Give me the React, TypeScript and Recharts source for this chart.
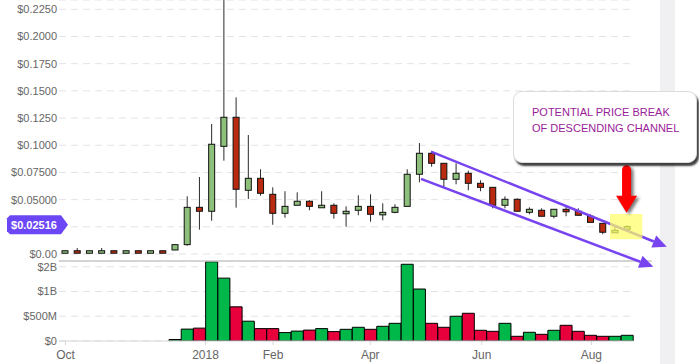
import React from 'react';
import {
  ComposedChart,
  Bar,
  XAxis,
  YAxis,
  CartesianGrid,
  Cell,
  ReferenceLine,
  ReferenceArea,
  ReferenceDot,
} from 'recharts';

// weekly candles, Oct 2017 -> Aug 2018
const openPrices = [
  0.0018, 0.003, 0.0018, 0.0018, 0.003, 0.0018, 0.003, 0.0018, 0.003, 0.0037,
  0.0086, 0.0429, 0.0393, 0.099, 0.1257, 0.0586, 0.0696, 0.0549, 0.0374, 0.0448,
  0.0485, 0.0429, 0.0448, 0.0374, 0.0402, 0.0438, 0.0365, 0.0383, 0.0438, 0.0733,
  0.0926, 0.0834, 0.0687, 0.0742, 0.065, 0.0613, 0.0448, 0.0503, 0.0383, 0.0402,
  0.0347, 0.0411, 0.0393, 0.0347, 0.0282, 0.02, 0.0227,
];
const highPrices = [
  0.0032, 0.0055, 0.0032, 0.0055, 0.0032, 0.0032, 0.0032, 0.0032, 0.0032, 0.0088,
  0.053, 0.0708, 0.1195, 0.2335, 0.144, 0.1094, 0.0779, 0.0613, 0.0577, 0.0567,
  0.0494, 0.0577, 0.0466, 0.0438, 0.054, 0.0549, 0.0466, 0.0457, 0.0779, 0.102,
  0.094, 0.0834, 0.0834, 0.0766, 0.0678, 0.0613, 0.053, 0.0512, 0.0429, 0.042,
  0.0411, 0.0448, 0.042, 0.0365, 0.0282, 0.0255, 0.0264,
];
const lowPrices = [
  0.0016, 0.0016, 0.0016, 0.0016, 0.0016, 0.0016, 0.0016, 0.0016, 0.0016, 0.0035,
  0.0076, 0.0224, 0.0306, 0.0858, 0.0426, 0.0506, 0.0536, 0.0269, 0.0334, 0.0448,
  0.0402, 0.0429, 0.0325, 0.0251, 0.0356, 0.0297, 0.031, 0.0374, 0.0438, 0.0659,
  0.0803, 0.0613, 0.0641, 0.0586, 0.0577, 0.042, 0.042, 0.0393, 0.0365, 0.0347,
  0.0328, 0.0347, 0.0356, 0.0291, 0.0181, 0.02, 0.0227,
];
const closePrices = [
  0.003, 0.0018, 0.003, 0.003, 0.0018, 0.003, 0.0018, 0.003, 0.0018, 0.0086,
  0.0429, 0.0393, 0.1009, 0.1257, 0.0595, 0.0696, 0.0558, 0.0374, 0.0438, 0.0485,
  0.0438, 0.0448, 0.0374, 0.0393, 0.0438, 0.0365, 0.0383, 0.0429, 0.0733, 0.0926,
  0.0834, 0.0687, 0.0742, 0.065, 0.0613, 0.0448, 0.0503, 0.0393, 0.0411, 0.0347,
  0.0411, 0.0393, 0.0356, 0.0291, 0.02, 0.0218, 0.02516,
];
const volumes = [
  0, 0, 0, 0, 0, 0, 0, 0, 0, 0.03e9,
  0.24e9, 0.26e9, 1.6e9, 1.27e9, 0.69e9, 0.4e9, 0.25e9, 0.25e9, 0.17e9, 0.2e9,
  0.22e9, 0.25e9, 0.19e9, 0.236e9, 0.277e9, 0.236e9, 0.297e9, 0.357e9, 1.55e9, 1.05e9,
  0.357e9, 0.277e9, 0.5e9, 0.56e9, 0.216e9, 0.196e9, 0.357e9, 0.095e9, 0.176e9, 0.135e9,
  0.216e9, 0.317e9, 0.196e9, 0.115e9, 0.095e9, 0.095e9, 0.115e9,
];

const xTickPositions = [0.03, 11.49, 17.02, 24.97, 34.09, 43.06];
const xTickLabels = ['Oct', '2018', 'Feb', 'Apr', 'Jun', 'Aug'];
const priceTicks = [0, 0.025, 0.05, 0.075, 0.1, 0.125, 0.15, 0.175, 0.2, 0.225];
const priceTickLabels = ['$0.00', '', '$0.05000', '$0.07500', '$0.1000', '$0.1250', '$0.1500', '$0.1750', '$0.2000', '$0.2250'];
const volumeTicks = [0, 5e8, 1e9, 1.5e9];
const volumeTickLabels = ['$0', '$500M', '$1B', '$2B'];
const lastPrice = 0.02516;

// annotation anchors in data space (x = candle index)
const upperChannel = [{ x: 29.94, y: 0.0941 }, { x: 49.23, y: 0.0067 }];
const lowerChannel = [{ x: 29.12, y: 0.069 }, { x: 48.13, y: -0.0117 }];
const highlight = { x1: 44.59, x2: 47.23, y1: 0.0135, y2: 0.0368 };
const arrowTip = { x: 45.94, y: 0.038 };

const GREEN = '#8dc07a';
const RED = '#b92a10';
const VOL_GREEN = '#00b84a';
const VOL_RED = '#e8003d';
const PURPLE = '#7744f0';

const data = openPrices.map((open, i) => ({
  i,
  open,
  high: highPrices[i],
  low: lowPrices[i],
  close: closePrices[i],
  range: [lowPrices[i], highPrices[i]],
  vol: volumes[i],
}));

const Candle = (props: any) => {
  const { x, y, width, height, payload } = props;
  const { open, close, high, low } = payload;
  const top = Math.min(y, y + height);
  const h = Math.abs(height);
  const ppu = h / (high - low);
  const cx = x + width / 2;
  const up = close >= open;
  const bodyTop = top + (high - Math.max(open, close)) * ppu;
  const bodyBot = top + (high - Math.min(open, close)) * ppu;
  const bh = Math.max(bodyBot - bodyTop, 2.5);
  const bw = 6;
  return (
    <g>
      <line x1={cx} x2={cx} y1={top} y2={top + h} stroke="#2a2a2a" strokeWidth={1} />
      <rect x={cx - bw / 2} y={bodyTop} width={bw} height={bh} fill={up ? GREEN : RED} stroke="#111" strokeWidth={1} />
    </g>
  );
};

const ArrowLine = (props: any) => {
  const { x1, y1, x2, y2 } = props;
  const ang = Math.atan2(y2 - y1, x2 - x1);
  const len = 14;
  const half = 6.5;
  const bx = x2 - len * Math.cos(ang);
  const by = y2 - len * Math.sin(ang);
  const px = -Math.sin(ang) * half;
  const py = Math.cos(ang) * half;
  return (
    <g>
      <line x1={x1} y1={y1} x2={bx} y2={by} stroke={PURPLE} strokeWidth={2.5} />
      <polygon points={`${x2},${y2} ${bx + px},${by + py} ${bx - px},${by - py}`} fill={PURPLE} />
    </g>
  );
};

const RedArrow = (props: any) => {
  const { cx, cy } = props;
  const d = `M ${cx - 4.5} ${cy - 17} L ${cx - 4.5} ${cy - 43} A 4.5 4.5 0 0 1 ${cx + 4.5} ${cy - 43} L ${cx + 4.5} ${cy - 17} L ${cx + 10.5} ${cy - 17} L ${cx} ${cy} L ${cx - 10.5} ${cy - 17} Z`;
  return (
    <g>
      <defs>
        <filter id="arrowShadow" x="-50%" y="-50%" width="200%" height="200%">
          <feGaussianBlur stdDeviation="1.5" />
        </filter>
      </defs>
      <path d={d} fill="#222" opacity={0.6} transform="translate(2.5,2)" filter="url(#arrowShadow)" />
      <path d={d} fill="#ff0000" />
    </g>
  );
};

const PriceTag = (props: any) => {
  const vb = props.viewBox || {};
  const right = vb.x + 9;
  const cy = vb.y - 2;
  const left = 7;
  const pts = `${left + 3},${cy - 9.5} ${right - 7},${cy - 9.5} ${right},${cy} ${right - 7},${cy + 9.5} ${left + 3},${cy + 9.5} ${left},${cy + 6.5} ${left},${cy - 6.5}`;
  return (
    <g>
      <polygon points={pts} fill="#6c47f5" />
      <text x={(left + right - 7) / 2} y={cy + 4} textAnchor="middle" fill="#fff" fontSize={11} fontWeight="bold">
        ${lastPrice.toFixed(5)}
      </text>
    </g>
  );
};

const labelFor = (ticks: number[], labels: string[]) => (v: number) => {
  const k = ticks.findIndex((t) => Math.abs(t - v) < 1e-9);
  return k >= 0 ? labels[k] : '';
};

const margin = { top: 0, right: 65.6, bottom: 28, left: 0 };

export default function App() {
  return (
    <div
      style={{
        position: 'absolute',
        left: 0,
        top: 0,
        width: 699,
        height: 364,
        background: '#fff',
        overflow: 'hidden',
        fontFamily: "'Liberation Sans', Arial, sans-serif",
      }}
    >
      <div style={{ position: 'absolute', left: 660, top: 0, width: 15, height: 364, background: '#f0f0f3' }} />

      <div style={{ position: 'absolute', left: 0, top: 258 }}>
        <ComposedChart width={699} height={106} data={data} margin={{ top: 3, right: 65.6, bottom: 0, left: 0 }} barCategoryGap={0}>
          <CartesianGrid horizontal vertical={false} stroke="#e2e2ea" strokeDasharray="7 5" />
          <XAxis
            xAxisId="n"
            dataKey="i"
            type="number"
            domain={[-0.5, 46.5]}
            allowDataOverflow
            ticks={xTickPositions}
            interval={0}
            tickFormatter={labelFor(xTickPositions, xTickLabels)}
            height={23}
            tickSize={4}
            tickMargin={5}
            stroke="#d6d6d6"
            tick={{ fontSize: 12, fill: '#666' }}
          />
          <XAxis xAxisId="c" dataKey="i" type="category" hide height={0} />
          <YAxis
            width={59}
            domain={[0, 1.616e9]}
            ticks={volumeTicks}
            allowDataOverflow
            tickFormatter={labelFor(volumeTicks, volumeTickLabels)}
            axisLine={false}
            tickLine={false}
            tickSize={0}
            tickMargin={2}
            tick={{ fontSize: 11, fill: '#666' }}
          />
          <Bar xAxisId="c" dataKey="vol" stroke="#000" strokeWidth={1} isAnimationActive={false}>
            {data.map((d) => (
              <Cell key={d.i} fill={d.close >= d.open ? VOL_GREEN : VOL_RED} />
            ))}
          </Bar>
          <ReferenceLine
            xAxisId="n"
            segment={[{ x: -0.5, y: 1.616e9 }, { x: 48, y: 1.616e9 }]}
            stroke="#c8c8c8"
            strokeWidth={1.5}
            ifOverflow="visible"
          />
        </ComposedChart>
      </div>

      <div style={{ position: 'absolute', left: 0, top: 0 }}>
        <ComposedChart width={699} height={282} data={data} margin={margin} barCategoryGap={0}>
          <CartesianGrid horizontal vertical={false} stroke="#e2e2ea" strokeDasharray="7 5" />
          <XAxis xAxisId="n" dataKey="i" type="number" domain={[-0.5, 46.5]} allowDataOverflow hide height={0} />
          <XAxis xAxisId="c" dataKey="i" type="category" hide height={0} />
          <YAxis
            width={59}
            domain={[0, 0.23354]}
            allowDataOverflow
            ticks={priceTicks}
            interval={0}
            tickFormatter={labelFor(priceTicks, priceTickLabels)}
            axisLine={false}
            tickLine={false}
            tickSize={0}
            tickMargin={2}
            tick={{ fontSize: 11, fill: '#666' }}
          />
          <Bar xAxisId="c" dataKey="range" shape={<Candle />} isAnimationActive={false} />
          <ReferenceLine xAxisId="n" segment={upperChannel} ifOverflow="visible" shape={ArrowLine} zIndex={600} />
          <ReferenceLine xAxisId="n" segment={lowerChannel} ifOverflow="visible" shape={ArrowLine} zIndex={600} />
          <ReferenceArea
            xAxisId="n"
            x1={highlight.x1}
            x2={highlight.x2}
            y1={highlight.y1}
            y2={highlight.y2}
            ifOverflow="visible"
            fill="#ffff66"
            fillOpacity={0.72}
            stroke="none"
            zIndex={700}
          />
          <ReferenceDot xAxisId="n" x={arrowTip.x} y={arrowTip.y} shape={RedArrow} ifOverflow="visible" zIndex={800} />
          <ReferenceLine y={lastPrice} xAxisId="n" stroke="none" label={(p: any) => <PriceTag {...p} />} zIndex={900} />
        </ComposedChart>
      </div>

      <div
        style={{
          position: 'absolute',
          left: 513,
          top: 91,
          width: 184,
          height: 72,
          boxSizing: 'border-box',
          background: '#fff',
          border: '1px solid #dcdcdc',
          borderRadius: 9,
          boxShadow: '2px 3px 2px rgba(0,0,0,0.75)',
          padding: '13px 0 0 18px',
          color: '#992299',
          fontSize: 11,
          lineHeight: '15.6px',
        }}
      >
        POTENTIAL PRICE BREAK
        <br />
        OF DESCENDING CHANNEL
      </div>
    </div>
  );
}
